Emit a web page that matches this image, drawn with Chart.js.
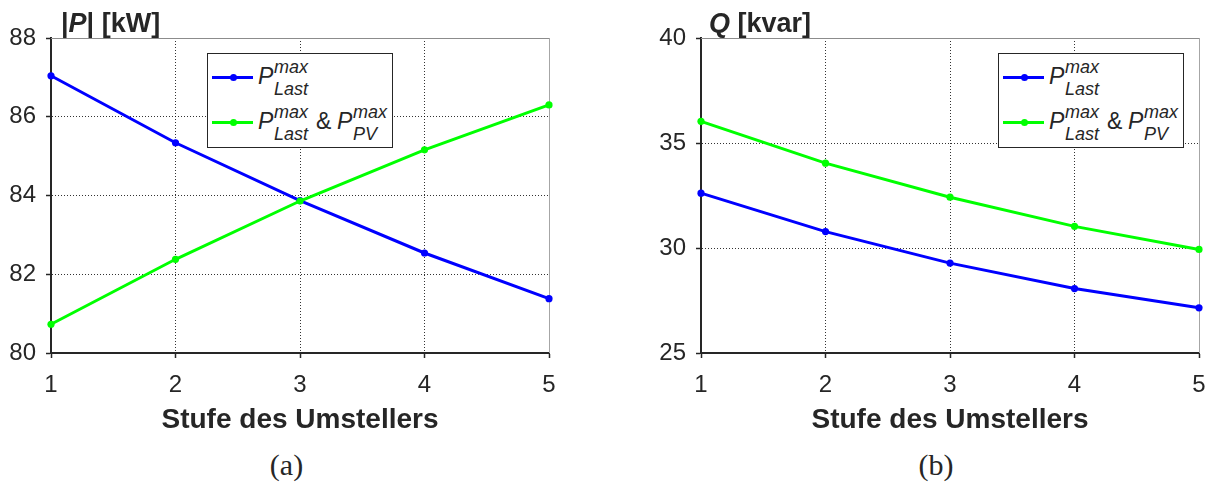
<!DOCTYPE html>
<html>
<head>
<meta charset="utf-8">
<script src="https://cdn.jsdelivr.net/npm/chart.js@4"></script>
<style>
  html, body { margin: 0; padding: 0; background: #fff; }
  body { width: 1206px; height: 486px; position: relative; overflow: hidden; }
  canvas { position: absolute; top: 0; }
  .t { position: absolute; line-height: 1; white-space: nowrap; font-family: 'Liberation Sans', Arial, sans-serif; color: #262626; }
  .i { font-style: italic; }
  .b { font-weight: bold; }
  .serif { font-family: 'Liberation Serif', 'Times New Roman', serif; transform: translateX(-50%); }
  .legend { position: absolute; width: 184px; height: 93px; border: 1px solid #262626; background: #fff; }
  .sample { position: absolute; height: 3px; }
  .dot { position: absolute; width: 7px; height: 7px; border-radius: 50%; }
</style>
</head>
<body>
<canvas id="chartP" width="600" height="440" style="left:0px"></canvas>
<canvas id="chartQ" width="600" height="440" style="left:650px"></canvas>
<script>
// Daten
const stufen = [1, 2, 3, 4, 5];
const pLast = [87.04, 85.34, 83.87, 82.54, 81.38];
const pLastPV = [80.73, 82.38, 83.86, 85.16, 86.30];
const qLast = [32.61, 30.78, 29.28, 28.07, 27.15];
const qLastPV = [36.03, 34.04, 32.42, 31.03, 29.93];

const BLUE = '#0000ff';
const GREEN = '#00ff00';
const DARK = '#262626';
const FONT = "'Liberation Sans', Arial, sans-serif";

function put(parent, html, x, base, size, cls) {
  const s = document.createElement('span');
  s.innerHTML = html;
  s.className = 't ' + (cls || '');
  s.style.left = x + 'px';
  s.style.top = (base - 0.8465 * size) + 'px';
  s.style.fontSize = size + 'px';
  parent.appendChild(s);
  return s;
}

// obere und rechte Rahmenlinie
const boxPlugin = {
  id: 'box',
  beforeDatasetsDraw(chart) {
    const { ctx, chartArea: a } = chart;
    ctx.save();
    ctx.lineWidth = 1;
    ctx.strokeStyle = '#8c8c8c';
    ctx.beginPath();
    ctx.moveTo(a.left, Math.round(a.top) + 0.5);
    ctx.lineTo(Math.round(a.right) + 0.5, Math.round(a.top) + 0.5);
    ctx.stroke();
    ctx.strokeStyle = '#a6a6a6';
    ctx.beginPath();
    ctx.moveTo(Math.round(a.right) + 0.5, a.top);
    ctx.lineTo(Math.round(a.right) + 0.5, a.bottom);
    ctx.stroke();
    ctx.restore();
  }
};

function makeChart(id, blue, green, yMin, yMax, yStep) {
  const pts = vals => stufen.map((x, i) => ({ x: x, y: vals[i] }));
  const ds = (vals, color, order) => ({
    data: pts(vals),
    borderColor: color,
    backgroundColor: color,
    borderWidth: 3,
    pointRadius: 3.6,
    pointBorderWidth: 0,
    pointBackgroundColor: color,
    tension: 0,
    clip: false,
    order: order
  });
  return new Chart(document.getElementById(id), {
    type: 'line',
    data: { datasets: [ds(blue, BLUE, 1), ds(green, GREEN, 0)] },
    options: {
      responsive: false,
      animation: false,
      devicePixelRatio: 1,
      layout: { padding: { top: 38, right: 51, left: 0, bottom: 0 } },
      plugins: { legend: { display: false }, tooltip: { enabled: false } },
      scales: {
        x: {
          type: 'linear', min: 1, max: 5,
          afterFit: s => { s.height = 87; },
          ticks: { stepSize: 1, color: DARK, padding: 13, font: { family: FONT, size: 24 } },
          grid: {
            color: c => (c.tick.value === 1 || c.tick.value === 5) ? 'rgba(0,0,0,0)' : 'rgba(0,0,0,0.8)',
            tickColor: DARK, tickLength: 5, tickWidth: 1.5, lineWidth: 1
          },
          border: { color: DARK, width: 2, dash: [1, 2] },
          title: { display: true, text: 'Stufe des Umstellers', color: DARK, padding: { top: 0, bottom: 3 },
                   font: { family: FONT, size: 28, weight: 'bold' } }
        },
        y: {
          min: yMin, max: yMax,
          afterFit: s => { s.width = 51; },
          ticks: { stepSize: yStep, color: DARK, padding: 10, font: { family: FONT, size: 24 } },
          grid: {
            color: c => (c.tick.value === yMin || c.tick.value === yMax) ? 'rgba(0,0,0,0)' : 'rgba(0,0,0,0.8)',
            tickColor: DARK, tickLength: 5, tickWidth: 1.5, lineWidth: 1
          },
          border: { color: DARK, width: 2, dash: [1, 2] }
        }
      }
    },
    plugins: [boxPlugin]
  });
}

makeChart('chartP', pLast, pLastPV, 80, 88, 2);
makeChart('chartQ', qLast, qLastPV, 25, 40, 5);

// Achsentitel oben
put(document.body, '|<i>P</i>| [kW]', 61, 32.5, 27, 'b');
put(document.body, '<i>Q</i> [kvar]', 709, 32.5, 27, 'b');

// Unterschriften
put(document.body, '(a)', 286.5, 475, 30, 'serif');
put(document.body, '(b)', 936, 475, 30, 'serif');

// Legenden
function legend(left, top) {
  const box = document.createElement('div');
  box.className = 'legend';
  box.style.left = left + 'px';
  box.style.top = top + 'px';
  document.body.appendChild(box);
  const rows = [{ color: BLUE, y: 24 }, { color: GREEN, y: 69 }];
  rows.forEach(r => {
    const line = document.createElement('div');
    line.className = 'sample';
    line.style.cssText = `left:4px;width:41px;top:${r.y - 2}px;background:${r.color}`;
    box.appendChild(line);
    const dot = document.createElement('div');
    dot.className = 'dot';
    dot.style.cssText = `left:${22}px;top:${r.y - 4}px;background:${r.color}`;
    box.appendChild(dot);
  });
  // Zeile 1
  put(box, 'P', 50, 30, 23, 'i');
  put(box, 'max', 66, 19, 18, 'i');
  put(box, 'Last', 66, 41, 18, 'i');
  // Zeile 2
  put(box, 'P', 50, 75, 23, 'i');
  put(box, 'max', 66, 64, 18, 'i');
  put(box, 'Last', 66, 86, 18, 'i');
  put(box, '&amp;', 108, 75, 23, '');
  put(box, 'P', 129, 75, 23, 'i');
  put(box, 'max', 145, 64, 18, 'i');
  put(box, 'PV', 145, 86, 18, 'i');
}
legend(207, 53);
legend(998, 53);
</script>
</body>
</html>
